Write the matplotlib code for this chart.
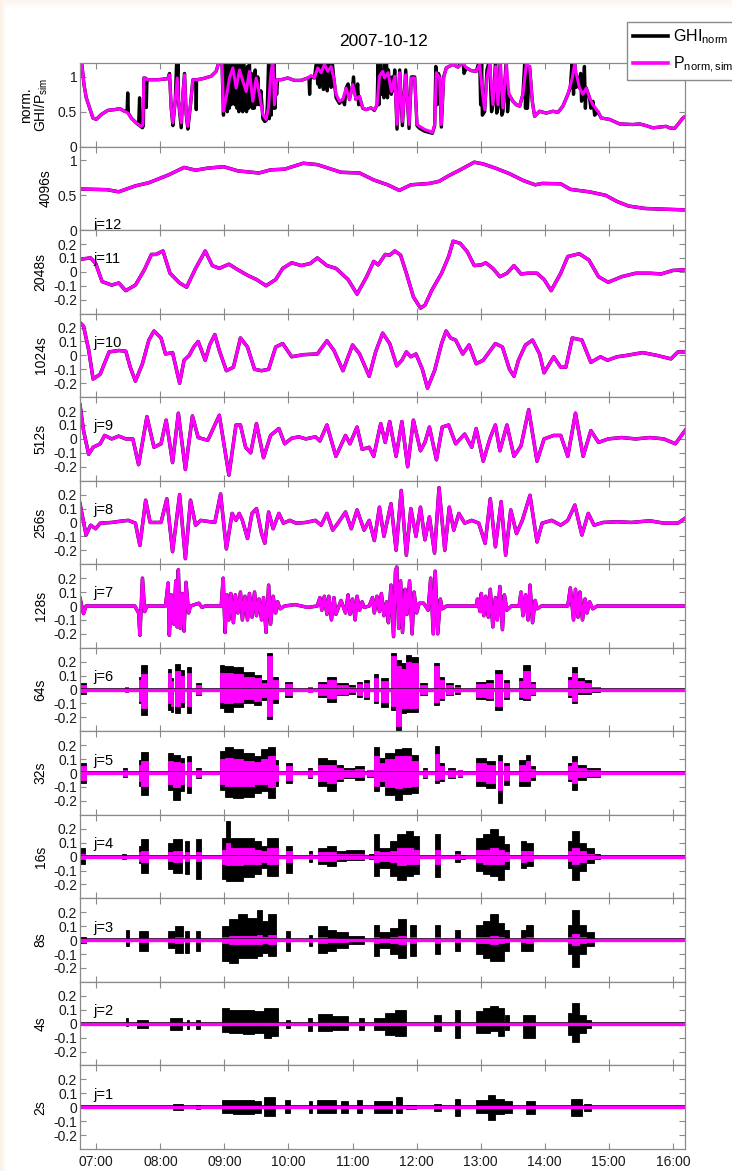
import numpy as np
import matplotlib.pyplot as plt
from matplotlib.lines import Line2D

plt.rcParams['font.family'] = ['Liberation Sans', 'DejaVu Sans']
plt.rcParams['mathtext.default'] = 'regular'

# time axis in decimal hours, 2007-10-12
t_span = [6.745, 16.19]
hours = list(range(7, 17))

# normalised GHI and simulated PV power (top panel)
t_p = [6.745, 6.775, 6.807, 6.843, 6.895, 6.947, 6.999, 7.077, 7.18, 7.285, 7.363, 7.441, 7.493, 7.545, 7.623,
       7.701, 7.727, 7.742, 7.805, 7.961, 8.117, 8.143, 8.169, 8.195, 8.231, 8.263, 8.283, 8.325, 8.351, 8.377,
       8.403, 8.429, 8.47, 8.507, 8.585, 8.663, 8.793, 8.871, 8.923, 8.96, 8.985, 9.027, 9.079, 9.131, 9.183,
       9.235, 9.287, 9.339, 9.391, 9.443, 9.495, 9.547, 9.599, 9.651, 9.687, 9.719, 9.755, 9.781, 9.817, 9.885,
       9.989, 10.093, 10.197, 10.301, 10.353, 10.405, 10.457, 10.509, 10.561, 10.613, 10.665, 10.707, 10.743,
       10.795, 10.847, 10.899, 10.951, 11.003, 11.055, 11.107, 11.159, 11.211, 11.289, 11.341, 11.383, 11.419,
       11.471, 11.50, 11.554, 11.606, 11.658, 11.694, 11.736, 11.778, 11.83, 11.882, 11.918, 11.97, 12.006,
       12.048, 12.126, 12.204, 12.246, 12.282, 12.308, 12.36, 12.386, 12.422, 12.464, 12.568, 12.646, 12.724,
       12.776, 12.854, 12.932, 12.984, 13.026, 13.062, 13.098, 13.14, 13.192, 13.234, 13.27, 13.306, 13.348,
       13.40, 13.442, 13.504, 13.556, 13.608, 13.66, 13.712, 13.764, 13.806, 13.842, 13.92, 14.024, 14.128,
       14.206, 14.284, 14.362, 14.43, 14.466, 14.502, 14.544, 14.596, 14.648, 14.70, 14.752, 14.83, 14.882,
       15.012, 15.168, 15.376, 15.48, 15.584, 15.688, 15.792, 15.896, 15.948, 16.026, 16.078, 16.157, 16.19]
p_norm = [1.2, 1.18, 0.89, 0.70, 0.555, 0.41, 0.39, 0.46, 0.52, 0.53, 0.545, 0.507, 0.48, 0.41, 0.34,
          0.29, 0.316, 0.985, 0.96, 0.96, 0.975, 1.03, 0.555, 0.34, 0.65, 0.985, 0.65, 0.34, 0.75, 1.03,
          0.46, 0.29, 0.60, 0.96, 0.96, 0.975, 1.01, 1.08, 1.25, 1.25, 0.507, 0.70, 0.985, 1.13, 0.84,
          1.10, 0.94, 0.79, 1.08, 0.65, 0.985, 0.75, 0.46, 0.39, 0.555, 0.985, 1.25, 0.60, 0.96, 0.96,
          0.985, 0.95, 0.95, 0.985, 1.02, 0.985, 1.13, 1.06, 1.18, 1.08, 1.15, 0.985, 0.75,
          0.65, 0.675, 0.84, 0.675, 0.89, 0.675, 0.72, 0.555, 0.53, 0.555, 0.53, 0.60, 1.01,
          1.08, 0.985, 1.06, 0.79, 1.01, 0.316, 1.06, 0.36, 1.03, 0.316, 0.985, 0.985, 0.316,
          0.29, 0.245, 0.22, 0.20, 0.316, 1.06, 0.985, 0.316, 0.985, 1.13, 1.18, 1.14, 1.2,
          1.13, 1.09, 1.08, 1.18, 0.79, 0.53, 0.985, 1.18, 0.60, 1.15, 0.60, 1.18, 0.555,
          1.18, 0.75, 0.65, 0.60, 0.58, 0.75, 1.18, 1.15, 0.65, 0.435, 0.507, 0.48, 0.507,
          0.49, 0.58, 0.75, 0.985, 1.18, 1.01, 0.84, 0.75, 0.84, 0.70, 0.60, 0.507, 0.41,
          0.39, 0.325, 0.316, 0.325, 0.30, 0.268, 0.28, 0.29, 0.268, 0.26, 0.316, 0.41, 0.43]

t_ghi = [6.745, 6.775, 6.807, 6.843, 6.895, 6.947, 6.999, 7.077, 7.18, 7.285, 7.363, 7.441, 7.48, 7.49, 7.50,
         7.545, 7.623, 7.66, 7.675, 7.69, 7.72, 7.735, 7.742, 7.775, 7.78, 7.79, 7.961, 8.117, 8.143, 8.169,
         8.195, 8.231, 8.255, 8.263, 8.275, 8.283, 8.325, 8.351, 8.377, 8.403, 8.429, 8.47, 8.507, 8.555, 8.56,
         8.565, 8.663, 8.793, 8.871, 8.923, 8.96, 8.985, 9.00, 9.015, 9.03, 9.045, 9.06, 9.075, 9.09, 9.105,
         9.12, 9.135, 9.15, 9.165, 9.18, 9.195, 9.21, 9.225, 9.24, 9.255, 9.27, 9.285, 9.30, 9.315, 9.33,
         9.345, 9.36, 9.375, 9.39, 9.405, 9.42, 9.435, 9.45, 9.465, 9.48, 9.50, 9.52, 9.545, 9.57, 9.60,
         9.63, 9.655, 9.67, 9.69, 9.70, 9.715, 9.73, 9.745, 9.76, 9.775, 9.79, 9.80, 9.815, 9.83, 9.885,
         9.989, 10.093, 10.197, 10.301, 10.32, 10.33, 10.34, 10.405, 10.44, 10.455, 10.47, 10.485, 10.50,
         10.515, 10.53, 10.545, 10.56, 10.575, 10.59, 10.605, 10.62, 10.635, 10.65, 10.665, 10.68, 10.707,
         10.743, 10.795, 10.847, 10.875, 10.899, 10.93, 10.951, 11.003, 11.015, 11.03, 11.055, 11.08, 11.095,
         11.107, 11.159, 11.211, 11.289, 11.341, 11.383, 11.40, 11.41, 11.419, 11.44, 11.455, 11.471, 11.49,
         11.50, 11.515, 11.53, 11.545, 11.56, 11.58, 11.606, 11.62, 11.64, 11.658, 11.694, 11.736, 11.778,
         11.83, 11.882, 11.918, 11.97, 12.006, 12.048, 12.126, 12.204, 12.246, 12.282, 12.30, 12.32, 12.34,
         12.36, 12.386, 12.422, 12.464, 12.568, 12.646, 12.724, 12.74, 12.776, 12.854, 12.932, 12.984, 13.00,
         13.015, 13.026, 13.062, 13.098, 13.14, 13.17, 13.192, 13.234, 13.25, 13.27, 13.306, 13.33, 13.348,
         13.40, 13.42, 13.442, 13.504, 13.556, 13.608, 13.66, 13.69, 13.70, 13.712, 13.73, 13.764, 13.806,
         13.842, 13.92, 14.024, 14.128, 14.206, 14.284, 14.362, 14.40, 14.43, 14.45, 14.466, 14.49, 14.502,
         14.544, 14.56, 14.575, 14.596, 14.62, 14.635, 14.648, 14.70, 14.72, 14.752, 14.78, 14.83, 14.882,
         15.012, 15.168, 15.376, 15.48, 15.584, 15.688, 15.792, 15.896, 15.948, 16.026, 16.078, 16.157, 16.19]
ghi_norm = [1.2, 1.18, 0.89, 0.70, 0.555, 0.41, 0.39, 0.46, 0.52, 0.53, 0.545, 0.507, 0.50, 0.77, 0.48,
            0.41, 0.34, 0.31, 0.70, 0.29, 0.27, 0.30, 0.985, 0.98, 0.56, 0.96, 0.96, 0.975, 1.05, 0.55,
            0.30, 0.65, 1.25, 0.985, 1.25, 0.65, 0.27, 0.75, 1.05, 0.46, 0.25, 0.60, 0.96, 0.96, 0.53,
            0.96, 0.975, 1.01, 1.08, 1.25, 1.25, 0.45, 1.25, 0.55, 1.25, 0.50, 1.25, 0.55, 1.1, 0.60,
            1.25, 0.62, 1.15, 0.60, 1.25, 0.55, 1.1, 0.50, 1.25, 0.55, 1.05, 0.50, 1.25, 0.55, 0.95,
            0.50, 1.15, 0.55, 1.25, 0.60, 1.05, 0.55, 0.90, 0.55, 1.1, 0.60, 1.0, 0.60, 0.80, 0.40,
            0.36, 0.38, 0.60, 1.25, 0.40, 1.25, 0.45, 1.25, 0.55, 1.25, 0.55, 0.95, 0.75, 0.96, 0.96,
            0.985, 0.95, 0.95, 0.985, 0.98, 0.75, 1.0, 0.985, 1.25, 0.90, 1.25, 0.85, 1.25,
            0.95, 1.25, 0.82, 1.25, 0.85, 1.15, 0.80, 1.25, 0.90, 1.15, 0.85, 1.25, 0.985,
            0.70, 0.62, 0.675, 0.60, 0.84, 0.90, 0.675, 0.89, 1.0, 0.80, 0.675, 0.90, 0.60,
            0.72, 0.55, 0.53, 0.555, 0.52, 0.60, 1.25, 0.60, 1.01, 1.25, 0.75, 1.08, 0.70,
            1.25, 0.75, 1.25, 0.70, 1.1, 0.85, 0.75, 1.0, 0.80, 1.1, 0.25, 1.1, 0.30,
            1.1, 0.26, 1.0, 1.0, 0.30, 0.26, 0.22, 0.20, 0.19, 0.30, 1.15, 0.60, 1.05,
            1.0, 0.28, 1.0, 1.13, 1.18, 1.14, 1.25, 1.05, 1.13, 1.09, 1.08, 1.25, 0.60,
            1.25, 0.45, 0.50, 1.1, 1.25, 0.50, 0.60, 1.25, 0.48, 0.55, 1.25, 0.45, 0.50,
            1.25, 0.50, 0.75, 0.65, 0.60, 0.58, 0.75, 1.25, 0.55, 1.25, 0.55, 1.15, 0.65,
            0.435, 0.507, 0.48, 0.507, 0.49, 0.58, 0.75, 0.85, 1.25, 0.75, 1.25, 0.85, 1.01,
            0.84, 1.05, 0.65, 0.75, 1.15, 0.55, 0.84, 0.70, 0.55, 0.65, 0.45, 0.50, 0.41,
            0.39, 0.325, 0.316, 0.325, 0.30, 0.268, 0.28, 0.29, 0.268, 0.26, 0.316, 0.41, 0.43]

# approximation j=12 (4096 s)
t_j12 = [6.745, 7.17, 7.35, 7.61, 7.82, 8.12, 8.37, 8.55, 8.74, 8.99, 9.21, 9.54, 9.72, 9.94, 10.23, 10.45,
         10.82, 11.11, 11.33, 11.55, 11.73, 11.91, 12.20, 12.35, 12.50, 12.68, 12.90, 13.04, 13.23, 13.45,
         13.67, 13.85, 13.96, 14.25, 14.40, 14.69, 14.95, 15.13, 15.31, 15.57, 15.86, 16.19]
a_j12 = [0.59, 0.58, 0.55, 0.635, 0.68, 0.79, 0.90, 0.86, 0.89, 0.91, 0.85, 0.82, 0.865, 0.875, 0.96, 0.94,
         0.83, 0.82, 0.72, 0.65, 0.57, 0.65, 0.67, 0.70, 0.78, 0.865, 0.975, 0.95, 0.89, 0.81,
         0.71, 0.65, 0.67, 0.665, 0.585, 0.55, 0.50, 0.41, 0.345, 0.31, 0.30, 0.29]

# detail j=11 (2048 s)
t_j11 = [6.745, 6.91, 6.99, 7.09, 7.24, 7.35, 7.46, 7.61, 7.75, 7.86, 7.93, 8.04, 8.15, 8.30, 8.41, 8.55,
         8.70, 8.81, 8.92, 9.07, 9.21, 9.36, 9.50, 9.65, 9.80, 9.91, 10.05, 10.20, 10.34, 10.45, 10.60,
         10.74, 10.93, 11.07, 11.22, 11.33, 11.40, 11.51, 11.58, 11.66, 11.75, 11.84, 11.95, 12.06, 12.13,
         12.24, 12.39, 12.50, 12.57, 12.68, 12.79, 12.90, 13.01, 13.08, 13.19, 13.30, 13.41, 13.52, 13.63,
         13.74, 13.88, 13.99, 14.10, 14.25, 14.36, 14.54, 14.69, 14.84, 14.99, 15.20, 15.42, 15.64, 15.82,
         16.00, 16.19]
d_j11 = [0.09, 0.10, 0.06, -0.07, -0.095, -0.08, -0.135, -0.095, 0.015, 0.125, 0.125, 0.15, -0.01, -0.08,
         -0.11, 0.025, 0.15, 0.045, 0.025, 0.055, 0.015, -0.025, -0.055, -0.10, -0.055, 0.025, 0.065, 0.045,
         0.06, 0.10, 0.045, 0.025, -0.055, -0.16, -0.035, 0.075, 0.05, 0.125, 0.12, 0.15, 0.12, -0.01, -0.18,
         -0.26, -0.24, -0.13, -0.01, 0.11, 0.22, 0.205, 0.145, 0.045, 0.05, 0.065, 0.025, -0.035, -0.01,
         0.045, -0.015, -0.01, -0.01, -0.055, -0.135, -0.01, 0.11, 0.13, 0.085, -0.035, -0.075, -0.035,
         -0.01, -0.01, -0.015, 0.01, 0.015]

# detail j=10 (1024 s)
t_j10 = [6.745, 6.80, 6.88, 6.95, 7.06, 7.20, 7.35, 7.46, 7.53, 7.61, 7.72, 7.82, 7.90, 8.01, 8.08, 8.19,
         8.30, 8.37, 8.45, 8.52, 8.59, 8.70, 8.77, 8.85, 8.92, 9.03, 9.14, 9.25, 9.36, 9.47, 9.58, 9.69,
         9.80, 9.91, 10.05, 10.23, 10.45, 10.60, 10.71, 10.85, 11.00, 11.11, 11.26, 11.36, 11.47, 11.58,
         11.69, 11.77, 11.84, 11.91, 11.99, 12.09, 12.17, 12.28, 12.39, 12.46, 12.53, 12.61, 12.72, 12.82,
         12.93, 13.04, 13.23, 13.34, 13.45, 13.52, 13.59, 13.70, 13.81, 13.92, 13.99, 14.14, 14.25, 14.33,
         14.43, 14.58, 14.72, 14.87, 14.98, 15.13, 15.28, 15.53, 15.75, 15.97, 16.08, 16.19]
d_j10 = [0.235, 0.21, 0.04, -0.17, -0.135, 0.025, 0.035, 0.03, -0.085, -0.185, -0.06, 0.11, 0.175, 0.125,
         0.01, 0.02, -0.20, -0.035, 0.0, 0.06, 0.10, -0.035, 0.075, 0.15, 0.035, -0.11, -0.085, 0.125, 0.06,
         -0.10, -0.11, -0.10, 0.06, 0.085, -0.01, 0.005, 0.01, 0.105, 0.035, -0.11, 0.075, 0.01, -0.15,
         0.025, 0.16, 0.085, -0.075, -0.035, 0.025, -0.01, 0.01, -0.10, -0.235, -0.11, 0.085, 0.175, 0.125,
         0.11, 0.01, 0.075, -0.06, -0.035, 0.085, 0.06, -0.10, -0.15, -0.035, 0.075, 0.11, 0.01, -0.125,
         -0.01, -0.085, -0.085, 0.125, 0.11, -0.05, -0.01, -0.035, -0.01, 0.0, 0.02, 0.0, -0.025, 0.025,
         0.025]

# detail j=9 (512 s)
t_j9 = [6.745, 6.80, 6.88, 6.95, 7.06, 7.13, 7.24, 7.35, 7.46, 7.57, 7.66, 7.79, 7.90, 8.01, 8.09, 8.19,
        8.28, 8.39, 8.50, 8.59, 8.74, 8.92, 9.07, 9.18, 9.25, 9.33, 9.41, 9.50, 9.61, 9.72, 9.85, 9.94,
        10.05, 10.16, 10.27, 10.42, 10.49, 10.60, 10.74, 10.89, 10.96, 11.07, 11.15, 11.26, 11.33, 11.44,
        11.51, 11.58, 11.68, 11.77, 11.86, 11.95, 12.06, 12.13, 12.20, 12.31, 12.40, 12.50, 12.61, 12.75,
        12.86, 12.93, 13.04, 13.15, 13.23, 13.30, 13.41, 13.52, 13.63, 13.75, 13.88, 13.99, 14.14, 14.25,
        14.36, 14.48, 14.60, 14.72, 14.84, 14.99, 15.20, 15.42, 15.64, 15.86, 16.04, 16.19]
d_j9 = [0.245, 0.06, -0.11, -0.06, -0.035, 0.025, 0.0, 0.02, 0.0, 0.0, -0.185, 0.16, -0.06, -0.035, 0.135,
        -0.17, 0.185, -0.22, 0.165, 0.01, -0.01, 0.17, -0.26, 0.10, 0.10, -0.06, -0.10, 0.11, -0.135, 0.025,
        0.075, -0.035, 0.005, 0.015, 0.0, 0.015, -0.015, 0.10, -0.125, 0.025, -0.035, 0.085, -0.075, -0.06,
        -0.125, 0.11, -0.025, 0.125, -0.125, 0.125, -0.20, 0.135, -0.085, -0.025, 0.085, -0.15, 0.085, 0.10,
        -0.035, 0.035, -0.06, 0.075, -0.16, 0.01, 0.10, -0.085, 0.10, -0.125, -0.05, 0.21, -0.16, 0.0,
        0.025, 0.025, -0.125, 0.185, -0.125, 0.06, -0.025, 0.0, 0.01, 0.0, 0.01, 0.0, -0.035, 0.06]

# detail j=8 (256 s)
t_j8 = [6.745, 6.84, 6.91, 6.99, 7.06, 7.24, 7.39, 7.50, 7.61, 7.68, 7.77, 7.84, 8.01, 8.10, 8.19, 8.30,
        8.39, 8.47, 8.55, 8.63, 8.85, 8.94, 9.03, 9.12, 9.18, 9.23, 9.28, 9.36, 9.43, 9.50, 9.58, 9.63,
        9.69, 9.76, 9.85, 9.92, 10.02, 10.12, 10.27, 10.42, 10.51, 10.60, 10.69, 10.78, 10.89, 10.98,
        11.07, 11.18, 11.26, 11.34, 11.42, 11.49, 11.60, 11.68, 11.76, 11.84, 11.91, 11.99, 12.06, 12.13,
        12.20, 12.28, 12.35, 12.44, 12.51, 12.58, 12.66, 12.75, 12.86, 12.97, 13.07, 13.15, 13.23, 13.32,
        13.39, 13.47, 13.56, 13.65, 13.77, 13.88, 13.96, 14.11, 14.25, 14.36, 14.47, 14.58, 14.68, 14.77,
        14.91, 15.13, 15.35, 15.64, 15.86, 16.08, 16.19]
d_j8 = [0.135, -0.09, -0.02, -0.045, -0.005, 0.0, 0.01, 0.015, -0.005, -0.165, 0.16, 0.0, 0.0, 0.17, -0.21,
        0.20, -0.26, 0.16, -0.02, 0.015, 0.0, 0.205, -0.19, 0.065, 0.015, 0.065, 0.015, -0.115, 0.065, 0.10,
        -0.08, -0.15, 0.075, -0.045, 0.065, -0.005, 0.015, -0.005, 0.0, 0.015, -0.02, 0.065, -0.055, 0.0,
        0.075, -0.045, 0.09, -0.055, 0.015, -0.13, 0.11, -0.10, 0.135, -0.20, 0.23, -0.235, 0.10, -0.10,
        0.11, -0.125, 0.04, -0.22, 0.25, -0.20, 0.11, -0.055, 0.065, -0.005, 0.015, -0.005, -0.15, 0.17,
        -0.175, 0.15, -0.235, 0.09, -0.08, 0.015, 0.195, -0.14, -0.005, 0.015, -0.02, 0.015, 0.125, -0.09,
        0.065, -0.02, 0.0, 0.005, 0.0, 0.012, -0.005, -0.005, 0.03]

# detail j=7 (128 s)
t_j7 = [6.745, 6.80, 6.84, 7.60, 7.66, 7.68, 7.72, 7.755, 7.79, 8.08, 8.12, 8.14, 8.17, 8.21, 8.24, 8.26,
        8.28, 8.31, 8.34, 8.37, 8.40, 8.44, 8.47, 8.60, 8.65, 8.70, 8.95, 8.98, 9.01, 9.04, 9.07, 9.10,
        9.14, 9.17, 9.21, 9.25, 9.28, 9.32, 9.36, 9.39, 9.43, 9.47, 9.50, 9.54, 9.58, 9.61, 9.65, 9.69,
        9.72, 9.76, 9.80, 9.83, 9.87, 9.94, 10.1, 10.3, 10.45, 10.49, 10.52, 10.56, 10.60, 10.63, 10.67,
        10.71, 10.74, 10.82, 10.89, 10.93, 10.96, 11.00, 11.04, 11.07, 11.11, 11.15, 11.18, 11.26, 11.31,
        11.34, 11.38, 11.42, 11.45, 11.49, 11.53, 11.56, 11.60, 11.64, 11.67, 11.69, 11.72, 11.75, 11.78,
        11.82, 11.85, 11.89, 11.93, 11.96, 12.00, 12.04, 12.11, 12.18, 12.22, 12.26, 12.29, 12.33, 12.37,
        12.40, 12.47, 12.93, 12.95, 12.99, 13.01, 13.05, 13.08, 13.12, 13.15, 13.19, 13.23, 13.26, 13.30,
        13.34, 13.37, 13.41, 13.48, 13.60, 13.63, 13.66, 13.70, 13.74, 13.77, 13.81, 13.85, 13.88, 13.95,
        14.36, 14.40, 14.45, 14.48, 14.52, 14.55, 14.59, 14.63, 14.66, 14.70, 14.75, 14.82, 16.19]
d_j7 = [0.055, -0.055, 0.0, 0.0, -0.05, -0.21, 0.20, -0.04, 0.0, 0.0, 0.165, -0.21, 0.08, -0.13, 0.18, -0.15,
        0.26, -0.16, 0.09, -0.18, 0.17, -0.05, 0.0, 0.02, -0.01, 0.0, 0.0, 0.20, -0.19, 0.08, -0.10, 0.09,
        -0.12, 0.08, -0.05, 0.10, -0.10, 0.07, -0.10, 0.09, -0.08, 0.10, -0.07, 0.05, -0.10, 0.06, -0.19, 0.15,
        -0.13, 0.07, -0.05, 0.03, -0.02, 0.0, 0.01, -0.01, 0.0, 0.06, -0.03, 0.07, -0.06, 0.07, -0.10,
        0.06, -0.06, 0.04, -0.05, 0.08, -0.06, 0.05, -0.10, 0.07, -0.03, 0.03, -0.01, 0.0, 0.06,
        -0.05, 0.07, -0.04, 0.09, -0.07, 0.03, -0.12, 0.15, -0.22, 0.25, 0.28, -0.16, 0.18, -0.19,
        0.12, -0.06, 0.18, -0.20, 0.10, -0.05, 0.02, 0.02, -0.03, 0.20, -0.20, 0.25, -0.20, 0.05,
        -0.02, 0.0, 0.0, 0.05, -0.04, 0.09, -0.07, 0.07, -0.08, 0.12, -0.15, 0.06, -0.10, 0.14,
        -0.17, 0.08, -0.03, 0.0, 0.0, 0.10, -0.07, 0.08, -0.10, 0.15, -0.12, 0.04, -0.02, 0.0,
        0.0, 0.13, -0.10, 0.12, -0.08, 0.10, -0.10, 0.05, -0.05, 0.03, -0.02, 0.0, 0.0]

# details j=6..1: burst segments [start, end] with extremes of GHI and of P
j6_t0 = [6.745, 7.44, 7.66, 7.70, 8.117, 8.16, 8.226, 8.30, 8.409, 8.555, 8.934, 8.993, 9.139, 9.285, 9.467,
         9.577, 9.664, 9.737, 9.942, 10.307, 10.453, 10.599, 10.745, 10.927, 11.073, 11.182, 11.328, 11.438,
         11.606, 11.679, 11.752, 11.839, 11.912, 12.058, 12.277, 12.350, 12.460, 12.606, 12.934, 13.080,
         13.226, 13.372, 13.591, 13.664, 13.774, 14.358, 14.431, 14.504, 14.613, 14.723]
j6_t1 = [6.84, 7.50, 7.70, 7.79, 8.16, 8.20, 8.30, 8.372, 8.482, 8.628, 8.993, 9.139, 9.285, 9.467, 9.577,
         9.664, 9.737, 9.832, 10.051, 10.365, 10.599, 10.745, 10.927, 11.036, 11.146, 11.255, 11.401, 11.547,
         11.679, 11.752, 11.839, 11.912, 12.022, 12.168, 12.350, 12.423, 12.569, 12.679, 13.080, 13.190,
         13.336, 13.445, 13.664, 13.774, 13.847, 14.431, 14.504, 14.613, 14.723, 14.869]
j6_ghi_hi = [0.045, 0.02, 0.09, 0.175, 0.15, 0.08, 0.18, 0.14, 0.165, 0.045, 0.175, 0.17, 0.165, 0.125, 0.105,
             0.07, 0.26, 0.09, 0.055, 0.02, 0.055, 0.09, 0.045, 0.03, 0.055, 0.065, 0.115, 0.08,
             0.26, 0.21, 0.19, 0.245, 0.235, 0.045, 0.19, 0.09, 0.045, 0.03, 0.055, 0.07,
             0.14, 0.07, 0.08, 0.175, 0.055, 0.09, 0.165, 0.08, 0.07, 0.02]
j6_ghi_lo = [-0.03, -0.02, -0.10, -0.18, -0.15, -0.16, -0.17, -0.125, -0.17, -0.04, -0.135, -0.16, -0.125, -0.10,
             -0.11, -0.075, -0.21, -0.10, -0.055, -0.02, -0.05, -0.09, -0.04, -0.03, -0.055, -0.065, -0.10,
             -0.125, -0.15, -0.30, -0.17, -0.16, -0.16, -0.04, -0.11, -0.075, -0.04, -0.03, -0.065, -0.075,
             -0.15, -0.065, -0.065, -0.075, -0.04, -0.055, -0.10, -0.03, -0.03, -0.015]
j6_p_hi = [0.03, 0.015, 0.07, 0.11, 0.12, 0.06, 0.13, 0.10, 0.12, 0.03, 0.12, 0.12, 0.11, 0.09, 0.08,
           0.05, 0.24, 0.07, 0.04, 0.015, 0.04, 0.07, 0.03, 0.02, 0.04, 0.05, 0.08, 0.06,
           0.24, 0.17, 0.15, 0.20, 0.19, 0.03, 0.17, 0.07, 0.03, 0.02, 0.04, 0.05,
           0.11, 0.05, 0.06, 0.13, 0.04, 0.07, 0.12, 0.06, 0.05, 0.015]
j6_p_lo = [-0.02, -0.015, -0.08, -0.13, -0.10, -0.12, -0.12, -0.09, -0.12, -0.03, -0.09, -0.10, -0.09, -0.07,
           -0.08, -0.05, -0.19, -0.07, -0.04, -0.015, -0.04, -0.06, -0.03, -0.02, -0.04, -0.05, -0.08,
           -0.09, -0.12, -0.26, -0.13, -0.13, -0.13, -0.03, -0.09, -0.06, -0.03, -0.02, -0.05, -0.06,
           -0.12, -0.05, -0.05, -0.06, -0.03, -0.04, -0.08, -0.02, -0.02, -0.01]

j5_t0 = [6.745, 7.42, 7.66, 7.70, 8.117, 8.20, 8.30, 8.409, 8.555, 8.934, 9.007, 9.139, 9.285, 9.467, 9.577,
         9.686, 9.796, 9.956, 10.307, 10.453, 10.599, 10.745, 10.854, 11.036, 11.219, 11.328, 11.416, 11.511,
         11.657, 11.766, 11.912, 12.095, 12.292, 12.350, 12.496, 12.642, 12.934, 13.080, 13.263, 13.372,
         13.591, 13.701, 13.774, 14.358, 14.431, 14.504, 14.650]
j5_t1 = [6.84, 7.48, 7.70, 7.81, 8.20, 8.30, 8.372, 8.482, 8.628, 9.007, 9.139, 9.285, 9.467, 9.577, 9.686,
         9.796, 9.832, 10.051, 10.365, 10.599, 10.745, 10.854, 11.036, 11.182, 11.328, 11.416, 11.511, 11.657,
         11.766, 11.912, 12.022, 12.168, 12.350, 12.423, 12.606, 12.715, 13.080, 13.226, 13.336, 13.445,
         13.701, 13.774, 13.847, 14.431, 14.504, 14.650, 14.869]
j5_ghi_hi = [0.07, 0.035, 0.095, 0.15, 0.145, 0.13, 0.11, 0.12, 0.035, 0.155, 0.19, 0.17, 0.145, 0.12, 0.17,
             0.19, 0.095, 0.07, 0.035, 0.11, 0.095, 0.06, 0.035, 0.05, 0.025, 0.19, 0.11, 0.145,
             0.17, 0.18, 0.13, 0.035, 0.195, 0.07, 0.035, 0.025, 0.11, 0.085, 0.13, 0.07,
             0.095, 0.13, 0.05, 0.07, 0.12, 0.06, 0.035]
j5_ghi_lo = [-0.07, -0.03, -0.095, -0.155, -0.12, -0.19, -0.13, -0.145, -0.035, -0.12, -0.17, -0.18, -0.17,
             -0.145, -0.13, -0.18, -0.095, -0.07, -0.035, -0.095, -0.13, -0.06, -0.035, -0.05, -0.025, -0.13,
             -0.095, -0.155, -0.19, -0.15, -0.145, -0.035, -0.07, -0.06, -0.035, -0.025, -0.095, -0.11,
             -0.215, -0.085, -0.095, -0.095, -0.05, -0.06, -0.12, -0.05, -0.03]
j5_p_hi = [0.05, 0.025, 0.06, 0.09, 0.09, 0.08, 0.07, 0.08, 0.025, 0.10, 0.11, 0.10, 0.09, 0.08, 0.10,
           0.12, 0.06, 0.05, 0.025, 0.06, 0.06, 0.04, 0.025, 0.03, 0.02, 0.12, 0.07, 0.10,
           0.12, 0.12, 0.09, 0.025, 0.14, 0.05, 0.025, 0.02, 0.07, 0.06, 0.09, 0.05,
           0.06, 0.09, 0.03, 0.05, 0.08, 0.04, 0.02]
j5_p_lo = [-0.05, -0.02, -0.06, -0.09, -0.08, -0.10, -0.08, -0.09, -0.025, -0.08, -0.09, -0.09, -0.09,
           -0.08, -0.08, -0.10, -0.06, -0.05, -0.025, -0.06, -0.07, -0.04, -0.025, -0.03, -0.02, -0.09,
           -0.06, -0.10, -0.11, -0.10, -0.09, -0.025, -0.05, -0.04, -0.025, -0.02, -0.06, -0.07,
           -0.12, -0.05, -0.06, -0.06, -0.03, -0.04, -0.07, -0.03, -0.02]

j4_t0 = [6.745, 7.40, 7.66, 7.70, 8.117, 8.20, 8.39, 8.555, 8.956, 9.029, 9.08, 9.285, 9.467, 9.577, 9.664,
         9.956, 10.321, 10.453, 10.599, 10.745, 10.891, 11.255, 11.328, 11.416, 11.584, 11.693, 11.839, 11.949,
         12.28, 12.606, 12.679, 12.934, 13.044, 13.153, 13.263, 13.372, 13.628, 13.701, 14.358, 14.431,
         14.540, 14.650, 14.766]
j4_t1 = [6.818, 7.46, 7.70, 7.81, 8.20, 8.336, 8.445, 8.628, 9.029, 9.08, 9.285, 9.467, 9.577, 9.664, 9.832,
         10.051, 10.365, 10.599, 10.745, 10.891, 11.182, 11.328, 11.416, 11.584, 11.693, 11.839, 11.949, 12.044,
         12.365, 12.679, 12.752, 13.044, 13.153, 13.263, 13.372, 13.445, 13.701, 13.81, 14.431, 14.540,
         14.650, 14.766, 14.869]
j4_ghi_hi = [0.065, 0.02, 0.075, 0.125, 0.10, 0.125, 0.11, 0.125, 0.135, 0.255, 0.135, 0.135, 0.11, 0.075, 0.135,
             0.075, 0.04, 0.065, 0.075, 0.04, 0.05, 0.02, 0.16, 0.065, 0.11, 0.16, 0.185, 0.15,
             0.16, 0.04, 0.015, 0.135, 0.16, 0.195, 0.15, 0.09, 0.11, 0.10, 0.11, 0.185,
             0.10, 0.065, 0.02]
j4_ghi_lo = [-0.055, -0.02, -0.045, -0.115, -0.09, -0.115, -0.125, -0.16, -0.16, -0.175, -0.175, -0.15, -0.125,
             -0.08, -0.14, -0.115, -0.04, -0.055, -0.065, -0.03, -0.025, -0.015, -0.14, -0.08, -0.14, -0.165,
             -0.14, -0.125, -0.15, -0.04, -0.015, -0.105, -0.125, -0.14, -0.165, -0.09, -0.08, -0.065, -0.08,
             -0.165, -0.105, -0.045, -0.015]
j4_p_hi = [0.02, 0.01, 0.03, 0.04, 0.03, 0.04, 0.03, 0.03, 0.05, 0.10, 0.06, 0.06, 0.05, 0.04, 0.06,
           0.04, 0.02, 0.03, 0.03, 0.02, 0.02, 0.01, 0.04, 0.03, 0.04, 0.06, 0.06, 0.05,
           0.05, 0.02, 0.01, 0.05, 0.05, 0.06, 0.05, 0.03, 0.04, 0.04, 0.04, 0.06,
           0.04, 0.02, 0.01]
j4_p_lo = [-0.02, -0.01, -0.03, -0.04, -0.03, -0.04, -0.03, -0.03, -0.05, -0.06, -0.06, -0.05, -0.05, -0.04,
           -0.05, -0.04, -0.02, -0.03, -0.03, -0.02, -0.015, -0.01, -0.04, -0.03, -0.04, -0.06, -0.05, -0.05,
           -0.05, -0.02, -0.01, -0.04, -0.05, -0.05, -0.05, -0.03, -0.04, -0.03, -0.03, -0.05, -0.04,
           -0.02, -0.01]

j3_t0 = [6.745, 7.46, 7.66, 8.117, 8.226, 8.39, 8.555, 8.956, 9.066, 9.212, 9.358, 9.504, 9.591, 9.686, 9.956,
         10.321, 10.453, 10.599, 10.745, 10.927, 11.328, 11.416, 11.584, 11.708, 11.898, 12.28, 12.606, 12.934,
         13.044, 13.153, 13.263, 13.372, 13.628, 13.701, 14.358, 14.431, 14.540, 14.650]
j3_t1 = [6.84, 7.51, 7.81, 8.226, 8.35, 8.445, 8.613, 9.066, 9.212, 9.358, 9.504, 9.591, 9.686, 9.81, 10.029,
         10.365, 10.599, 10.745, 10.927, 11.182, 11.416, 11.584, 11.708, 11.839, 11.985, 12.365, 12.679, 13.044,
         13.153, 13.263, 13.372, 13.445, 13.701, 13.81, 14.431, 14.540, 14.650, 14.766]
j3_ghi_hi = [0.025, 0.075, 0.065, 0.065, 0.10, 0.065, 0.065, 0.10, 0.15, 0.185, 0.16, 0.215, 0.135, 0.185, 0.065,
             0.04, 0.10, 0.075, 0.055, 0.03, 0.11, 0.055, 0.09, 0.15, 0.11, 0.11, 0.075, 0.11,
             0.135, 0.185, 0.125, 0.075, 0.075, 0.11, 0.11, 0.215, 0.11, 0.055]
j3_ghi_lo = [-0.02, -0.045, -0.08, -0.055, -0.09, -0.09, -0.08, -0.15, -0.165, -0.13, -0.13, -0.115, -0.09,
             -0.115, -0.08, -0.045, -0.09, -0.08, -0.055, -0.03, -0.115, -0.055, -0.10, -0.13, -0.115, -0.10,
             -0.08, -0.10, -0.13, -0.15, -0.15, -0.08, -0.08, -0.08, -0.10, -0.19, -0.10, -0.045]
j3_p_hi = [0.01, 0.01, 0.015, 0.015, 0.02, 0.015, 0.01, 0.02, 0.03, 0.03, 0.03, 0.035, 0.025, 0.035, 0.015,
           0.01, 0.02, 0.015, 0.01, 0.008, 0.02, 0.015, 0.02, 0.03, 0.02, 0.02, 0.015, 0.02,
           0.025, 0.03, 0.025, 0.015, 0.015, 0.02, 0.02, 0.045, 0.02, 0.01]
j3_p_lo = [-0.01, -0.01, -0.015, -0.015, -0.02, -0.015, -0.01, -0.02, -0.025, -0.025, -0.025, -0.025, -0.02,
           -0.025, -0.015, -0.01, -0.02, -0.015, -0.01, -0.008, -0.02, -0.015, -0.02, -0.025, -0.02, -0.02,
           -0.015, -0.02, -0.02, -0.025, -0.02, -0.015, -0.015, -0.02, -0.02, -0.035, -0.02, -0.01]

j2_t0 = [7.46, 7.64, 8.15, 8.409, 8.555, 8.956, 9.066, 9.285, 9.467, 9.613, 9.723, 9.956, 10.307, 10.453, 10.672,
         11.095, 11.328, 11.511, 11.657, 12.277, 12.606, 12.934, 13.044, 13.153, 13.263, 13.387, 13.664,
         14.358, 14.431, 14.540, 14.650]
j2_t1 = [7.50, 7.81, 8.336, 8.445, 8.613, 9.066, 9.285, 9.467, 9.613, 9.723, 9.832, 10.029, 10.365, 10.672,
         10.927, 11.182, 11.511, 11.657, 11.839, 12.387, 12.679, 13.044, 13.153, 13.263, 13.372, 13.445,
         13.847, 14.431, 14.540, 14.650, 14.723]
j2_ghi_hi = [0.04, 0.03, 0.04, 0.03, 0.03, 0.11, 0.10, 0.10, 0.09, 0.11, 0.11, 0.025, 0.04, 0.07, 0.055,
             0.04, 0.04, 0.075, 0.10, 0.065, 0.10, 0.09, 0.11, 0.125, 0.11, 0.065, 0.065,
             0.075, 0.15, 0.065, 0.03]
j2_ghi_lo = [-0.02, -0.03, -0.045, -0.04, -0.04, -0.06, -0.07, -0.075, -0.07, -0.10, -0.09, -0.03, -0.055,
             -0.05, -0.045, -0.045, -0.045, -0.08, -0.09, -0.055, -0.10, -0.07, -0.07, -0.055, -0.09, -0.045,
             -0.10, -0.08, -0.13, -0.07, -0.03]

j1_t0 = [8.20, 8.555, 8.956, 9.139, 9.467, 9.613, 9.942, 10.321, 10.438, 10.818, 11.073, 11.328, 11.679,
         11.839, 12.277, 12.606, 12.934, 13.117, 13.226, 13.372, 13.701, 14.409, 14.613]
j1_t1 = [8.35, 8.613, 9.139, 9.467, 9.577, 9.796, 10.029, 10.365, 10.745, 10.927, 11.146, 11.62, 11.766,
         11.985, 12.387, 12.679, 13.117, 13.226, 13.372, 13.482, 13.847, 14.577, 14.723]
j1_ghi_hi = [0.02, 0.015, 0.055, 0.055, 0.045, 0.075, 0.055, 0.045, 0.05, 0.045, 0.055, 0.045, 0.075,
             0.015, 0.025, 0.06, 0.05, 0.09, 0.06, 0.045, 0.045, 0.06, 0.025]
j1_ghi_lo = [-0.02, -0.015, -0.045, -0.05, -0.04, -0.065, -0.045, -0.04, -0.04, -0.04, -0.045, -0.04, -0.045,
             -0.015, -0.025, -0.06, -0.045, -0.09, -0.05, -0.04, -0.05, -0.06, -0.025]

periods = ['4096s', '2048s', '1024s', '512s', '256s', '128s', '64s', '32s', '16s', '8s', '4s', '2s']
levels = [12, 11, 10, 9, 8, 7, 6, 5, 4, 3, 2, 1]

black = '#000000'
magenta = '#ff00ff'
axis_grey = '#8a8a8a'


def draw_bursts(ax, t0, t1, hi, lo, color):
    t0 = np.asarray(t0)
    width = np.asarray(t1) - t0
    ax.bar(t0, np.subtract(hi, lo), width=width, bottom=lo, align='edge',
           color=color, edgecolor=color, linewidth=0.6)


fig, axs = plt.subplots(13, 1, figsize=(7.32, 11.71), dpi=100, sharex=True)
fig.subplots_adjust(left=80 / 732, right=685 / 732, bottom=1 - 1149 / 1171, top=1 - 63 / 1171, hspace=0)

# faint cream tint along the top and left page edges
h, w = 1171, 732
yy, xx = np.mgrid[0:h, 0:w]
frame = np.zeros((h, w, 4))
frame[..., 0], frame[..., 1], frame[..., 2] = 0.97, 0.89, 0.80
frame[..., 3] = np.maximum(np.clip(1 - yy / 8.0, 0, 1) * 0.35, np.clip(1 - xx / 6.0, 0, 1) * 0.5)
bg = fig.add_axes([0, 0, 1, 1], zorder=-5)
bg.imshow(frame, aspect='auto', extent=[0, 1, 0, 1])
bg.axis('off')

# top panel
ax = axs[0]
ax.plot(t_ghi, ghi_norm, color=black, lw=2.4)
ax.plot(t_p, p_norm, color=magenta, lw=2.2)
ax.set_ylim(0, 1.2)
ax.set_yticks([0, 0.5, 1])
ax.set_yticklabels(['0', '0.5', '1'])
ax.set_ylabel('norm.\nGHI/P$_{sim}$', fontsize=10, linespacing=0.9, labelpad=6)

smooth = [(t_j12, a_j12), (t_j11, d_j11), (t_j10, d_j10), (t_j9, d_j9), (t_j8, d_j8), (t_j7, d_j7)]
for k, (tt, vv) in enumerate(smooth):
    ax = axs[k + 1]
    ax.plot(tt, vv, color=black, lw=2.5)
    ax.plot(tt, vv, color=magenta, lw=2.3)

bursts = [
    (j6_t0, j6_t1, j6_ghi_hi, j6_ghi_lo, j6_p_hi, j6_p_lo),
    (j5_t0, j5_t1, j5_ghi_hi, j5_ghi_lo, j5_p_hi, j5_p_lo),
    (j4_t0, j4_t1, j4_ghi_hi, j4_ghi_lo, j4_p_hi, j4_p_lo),
    (j3_t0, j3_t1, j3_ghi_hi, j3_ghi_lo, j3_p_hi, j3_p_lo),
    (j2_t0, j2_t1, j2_ghi_hi, j2_ghi_lo, None, None),
    (j1_t0, j1_t1, j1_ghi_hi, j1_ghi_lo, None, None),
]
for k, (t0, t1, ghi_hi, ghi_lo, p_hi, p_lo) in enumerate(bursts):
    ax = axs[k + 7]
    ax.plot(t_span, [0, 0], color=black, lw=2.6)
    draw_bursts(ax, t0, t1, ghi_hi, ghi_lo, black)
    if p_hi is not None:
        draw_bursts(ax, t0, t1, p_hi, p_lo, magenta)
    ax.plot(t_span, [0, 0], color=magenta, lw=2.4)

for k, ax in enumerate(axs[1:]):
    if k == 0:
        ax.set_ylim(0, 1.2)
        ax.set_yticks([0, 0.5, 1])
        ax.set_yticklabels(['0', '0.5', '1'])
        ax.text(6.947, 0.07, f'j={levels[k]}', fontsize=10.5, va='center')
    else:
        ax.set_ylim(-0.3, 0.3)
        ax.set_yticks([-0.2, -0.1, 0, 0.1, 0.2])
        ax.set_yticklabels(['-0.2', '-0.1', '0', '0.1', '0.2'])
        ax.text(6.947, 0.09, f'j={levels[k]}', fontsize=10.5, va='center')
    ax.set_ylabel(periods[k], fontsize=10, labelpad=4)

for ax in axs:
    ax.set_xlim(t_span)
    ax.set_xticks(hours)
    ax.tick_params(direction='in', length=4, width=0.8, color=axis_grey, labelsize=10,
                   labelcolor='#1a1a1a', top=True, right=True, pad=2)
    for s in ax.spines.values():
        s.set_color(axis_grey)
        s.set_linewidth(0.9)
    ax.set_facecolor('white')

axs[-1].set_xticklabels([f'{hh:02d}:00' for hh in hours])
axs[-1].tick_params(axis='x', pad=4)

fig.text(383 / 732, 1 - 42 / 1171, '2007-10-12', ha='center', va='center', fontsize=12.5)

handles = [Line2D([], [], color=black, lw=2.6), Line2D([], [], color=magenta, lw=2.6)]
fig.legend(handles, ['GHI$_{norm}$', 'P$_{norm,sim}$'], loc='upper left',
           bbox_to_anchor=(627 / 732, 1 - 22 / 1171), fontsize=11.5, frameon=True, fancybox=False,
           edgecolor=axis_grey, framealpha=1, borderaxespad=0, borderpad=0.35, labelspacing=0.5,
           handlelength=2.2, handletextpad=0.3)

fig.savefig('out.png', dpi=100, facecolor='white')
